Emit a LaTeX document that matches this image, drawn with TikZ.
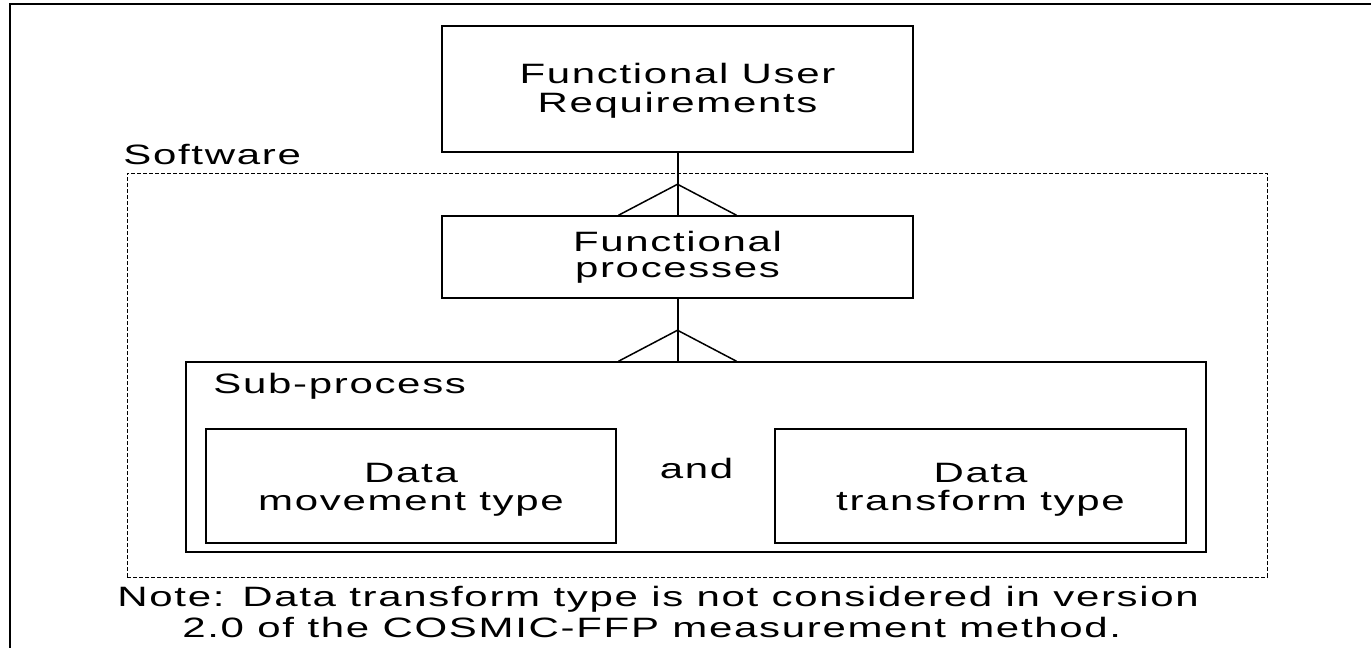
\documentclass[tikz,border=0pt]{standalone}
\usepackage{fontspec}
\setmainfont{Liberation Sans}[FakeStretch=1.5, LetterSpace=6]
\usetikzlibrary{calc}
\tikzset{
  box/.style={draw, line width=0.75pt, rectangle, inner sep=0pt, align=center},
  softbox/.style={draw, line width=0.5pt, dash pattern=on 2pt off 1pt, rectangle, inner sep=0pt},
  frameline/.style={line width=1pt},
  stem/.style={line width=1pt},
  foot/.style={line width=0.75pt, line join=miter},
  txt/.style={inner sep=0pt},
}
% taller first line so the two-line labels sit a little lower in their boxes
\newcommand{\tallline}{\rule{0pt}{13pt}}
\begin{document}
\begin{tikzpicture}[x=0.5pt, y=-0.5pt, font=\fontsize{14pt}{14.5pt}\selectfont]
\useasboundingbox (0,0) rectangle (1371,648);

% page frame (open to the right and bottom)
\coordinate (frameBL) at (10,648);
\coordinate (frameTL) at (10,4);
\coordinate (frameTR) at (1371,4);
\draw[frameline] (frameBL) -- (frameTL) -- (frameTR);

% software boundary
\node[softbox, minimum width=570pt, minimum height=202pt] (sw) at (697,375) {};
\node[txt, anchor=base west] (swlabel) at (123,164) {Software};

% requirement and process boxes
\node[box, minimum width=235.5pt, minimum height=63pt] (fur) at (677.5,89)
  {\rule{0pt}{11.5pt}Functional User\\Requirements};
\node[box, minimum width=235.5pt, minimum height=41pt,
      font=\fontsize{14pt}{13pt}\selectfont] (fp) at (677.5,257)
  {Functional\\processes};

% sub-process container
\node[box, minimum width=510pt, minimum height=95pt] (sp) at (696,457) {};
\node[txt, anchor=base west] (splabel) at (213,393) {Sub-process};

\node[box, minimum width=205pt, minimum height=57pt,
      font=\fontsize{14pt}{14pt}\selectfont] (dm) at (411,486)
  {\tallline Data\\movement type};
\node[box, minimum width=205.5pt, minimum height=57pt,
      font=\fontsize{14pt}{14pt}\selectfont] (dt) at (980.5,486)
  {\tallline Data\\transform type};
\node[txt, anchor=base] (and) at (696.5,478) {and};

% one-to-many connectors
\draw[stem] (fur.south) -- (fp.north);
\draw[foot] ($(fp.north)+(-59,0)$) -- ($(fp.north)+(0,-31)$) -- ($(fp.north)+(59,0)$);
\coordinate (spTop) at (fp.south |- sp.north);
\draw[stem] (fp.south) -- (spTop);
\draw[foot] ($(spTop)+(-59,0)$) -- ($(spTop)+(0,-31)$) -- ($(spTop)+(59,0)$);

% note (base anchor sits on the last line)
\node[txt, anchor=base west, align=left,
      font=\fontsize{14pt}{15.5pt}\selectfont] (note) at (117,637)
  {Note: Data transform type is not considered in version\\
   \hspace*{32.5pt}2.0 of the COSMIC-FFP measurement method.};
\end{tikzpicture}
\end{document}
